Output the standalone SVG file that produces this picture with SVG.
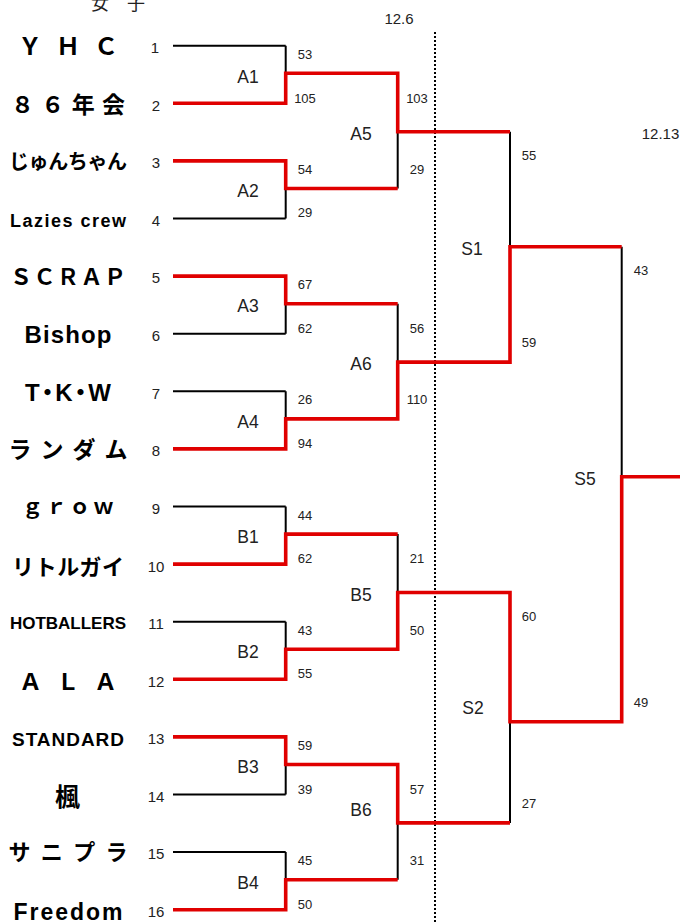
<svg xmlns="http://www.w3.org/2000/svg" width="680" height="922" viewBox="0 0 680 922">
<style>
.name{font-family:"Liberation Sans","Noto Sans CJK JP",sans-serif;font-weight:bold;fill:#000;text-anchor:middle}
.jp{font-family:"Noto Sans CJK JP","Liberation Sans",sans-serif;font-weight:bold;fill:#000;text-anchor:middle}
.seed{font-family:"Liberation Sans",sans-serif;font-size:15px;fill:#222;text-anchor:middle}
.score{font-family:"Liberation Sans",sans-serif;font-size:13px;fill:#222;text-anchor:middle}
.mlab{font-family:"Liberation Sans",sans-serif;font-size:17.5px;fill:#222;text-anchor:middle}
.date{font-family:"Liberation Sans",sans-serif;font-size:15px;fill:#222;text-anchor:middle}
.blk{fill:none;stroke:#000;stroke-width:2}
.red{fill:none;stroke:#e00000;stroke-width:3.6;stroke-linejoin:miter}
.dot{fill:none;stroke:#000;stroke-width:2;stroke-dasharray:2 2}
</style>
<rect width="680" height="922" fill="#fff"/>
<text x="118" y="10" font-family="'Noto Sans CJK JP',sans-serif" font-size="18" text-anchor="middle" fill="#222">女　子</text>
<text class="date" x="399" y="24">12.6</text>
<text class="date" x="660.5" y="139">12.13</text>

<g id="connectors">
<path class="blk" d="M173,45.7H285.7M173,103.3H285.7M173,160.9H285.7M173,218.5H285.7M173,276.1H285.7M173,333.7H285.7M173,391.3H285.7M173,448.9H285.7M173,506.5H285.7M173,564.1H285.7M173,621.7H285.7M173,679.3H285.7M173,736.9H285.7M173,794.5H285.7M173,852.1H285.7M173,909.7H285.7"/>
<path class="blk" d="M285.7,45.7V103.3M285.7,160.9V218.5M285.7,276.1V333.7M285.7,391.3V448.9M285.7,506.5V564.1M285.7,621.7V679.3M285.7,736.9V794.5M285.7,852.1V909.7"/>
<path class="blk" d="M397.7,73.3V188.5M397.7,303.7V418.9M397.7,534.1V649.3M397.7,764.5V879.7"/>
<path class="blk" d="M510,131.7V362.1M510,592.5V822.9M621.7,246.7V721.7"/>
<path class="dot" d="M435,32V922"/>
<path class="dot" d="M435,364V390" stroke="#e00000"/>
<path class="red" d="M173,103.3H285.7V73.3H397.7V131.7H510"/>
<path class="red" d="M173,160.9H285.7V188.5H397.7"/>
<path class="red" d="M173,276.1H285.7V303.7H397.7"/>
<path class="red" d="M173,448.9H285.7V418.9H397.7V362.1H510V246.7H621.7"/>
<path class="red" d="M173,564.1H285.7V534.1H397.7"/>
<path class="red" d="M173,679.3H285.7V649.3H397.7V592.5H510V721.7H621.7V476.7H680"/>
<path class="red" d="M173,736.9H285.7V764.5H397.7V822.9H510"/>
<path class="red" d="M173,909.7H285.7V879.7H397.7"/>
</g>

<g id="team1"><text class="jp" x="68" y="55" font-size="24" textLength="100" lengthAdjust="spacing">ＹＨＣ</text><text class="seed" x="155" y="53">1</text></g>
<g id="team2"><text class="jp" x="68" y="113" font-size="23" textLength="114" lengthAdjust="spacing">８６年会</text><text class="seed" x="156" y="111">2</text></g>
<g id="team3"><text class="jp" x="68" y="169" font-size="20" textLength="118" lengthAdjust="spacing">じゅんちゃん</text><text class="seed" x="156" y="168">3</text></g>
<g id="team4"><text class="name" x="68" y="227" font-size="18" textLength="116" lengthAdjust="spacing">Lazies crew</text><text class="seed" x="156" y="226">4</text></g>
<g id="team5"><text class="jp" x="68" y="285" font-size="22" textLength="116" lengthAdjust="spacing">ＳＣＲＡＰ</text><text class="seed" x="156" y="283">5</text></g>
<g id="team6"><text class="name" x="68" y="343" font-size="24" textLength="87" lengthAdjust="spacing">Bishop</text><text class="seed" x="156" y="341">6</text></g>
<g id="team7"><text class="name" x="68" y="401" font-size="24" textLength="86" lengthAdjust="spacing">T・K・W</text><text class="seed" x="156" y="399">7</text></g>
<g id="team8"><text class="jp" x="68" y="458" font-size="23" textLength="119" lengthAdjust="spacing">ランダム</text><text class="seed" x="156" y="456">8</text></g>
<g id="team9"><text class="jp" x="68" y="514" font-size="21" textLength="92" lengthAdjust="spacing">ｇｒｏｗ</text><text class="seed" x="156" y="514">9</text></g>
<g id="team10"><text class="jp" x="68" y="575" font-size="22" textLength="112" lengthAdjust="spacing">リトルガイ</text><text class="seed" x="156" y="572">10</text></g>
<g id="team11"><text class="name" x="68" y="629" font-size="17" textLength="116" lengthAdjust="spacing">HOTBALLERS</text><text class="seed" x="156" y="629">11</text></g>
<g id="team12"><text class="jp" x="68" y="690" font-size="23" textLength="98" lengthAdjust="spacing">ＡＬＡ</text><text class="seed" x="156" y="687">12</text></g>
<g id="team13"><text class="name" x="68" y="746" font-size="19" textLength="112" lengthAdjust="spacing">STANDARD</text><text class="seed" x="156" y="744">13</text></g>
<g id="team14"><text class="jp" x="67.5" y="806" font-size="25">楓</text><text class="seed" x="156" y="802">14</text></g>
<g id="team15"><text class="jp" x="68" y="860" font-size="22" textLength="119" lengthAdjust="spacing">サニプラ</text><text class="seed" x="156" y="859">15</text></g>
<g id="team16"><text class="name" x="68" y="920" font-size="23" textLength="109" lengthAdjust="spacing">Freedom</text><text class="seed" x="156" y="917">16</text></g>

<g id="A1"><text class="mlab" x="248" y="83">A1</text><text class="score" x="305" y="59">53</text><text class="score" x="305" y="103">105</text></g>
<g id="A2"><text class="mlab" x="248" y="197">A2</text><text class="score" x="305" y="174">54</text><text class="score" x="305" y="217">29</text></g>
<g id="A3"><text class="mlab" x="248" y="312">A3</text><text class="score" x="305" y="289">67</text><text class="score" x="305" y="333">62</text></g>
<g id="A4"><text class="mlab" x="248" y="428">A4</text><text class="score" x="305" y="404">26</text><text class="score" x="305" y="448">94</text></g>
<g id="B1"><text class="mlab" x="248" y="543">B1</text><text class="score" x="305" y="520">44</text><text class="score" x="305" y="563">62</text></g>
<g id="B2"><text class="mlab" x="248" y="658">B2</text><text class="score" x="305" y="635">43</text><text class="score" x="305" y="678">55</text></g>
<g id="B3"><text class="mlab" x="248" y="773">B3</text><text class="score" x="305" y="750">59</text><text class="score" x="305" y="794">39</text></g>
<g id="B4"><text class="mlab" x="248" y="889">B4</text><text class="score" x="305" y="865">45</text><text class="score" x="305" y="909">50</text></g>
<g id="A5"><text class="mlab" x="361" y="140">A5</text><text class="score" x="417" y="103">103</text><text class="score" x="417" y="174">29</text></g>
<g id="A6"><text class="mlab" x="361" y="370">A6</text><text class="score" x="417" y="333">56</text><text class="score" x="417" y="404">110</text></g>
<g id="B5"><text class="mlab" x="361" y="601">B5</text><text class="score" x="417" y="563">21</text><text class="score" x="417" y="635">50</text></g>
<g id="B6"><text class="mlab" x="361" y="816">B6</text><text class="score" x="417" y="794">57</text><text class="score" x="417" y="865">31</text></g>
<g id="S1"><text class="mlab" x="472" y="255">S1</text><text class="score" x="529" y="160">55</text><text class="score" x="529" y="347">59</text></g>
<g id="S2"><text class="mlab" x="473" y="714">S2</text><text class="score" x="529" y="621">60</text><text class="score" x="529" y="808">27</text></g>
<g id="S5"><text class="mlab" x="585" y="485">S5</text><text class="score" x="641" y="275">43</text><text class="score" x="641" y="707">49</text></g>
</svg>
